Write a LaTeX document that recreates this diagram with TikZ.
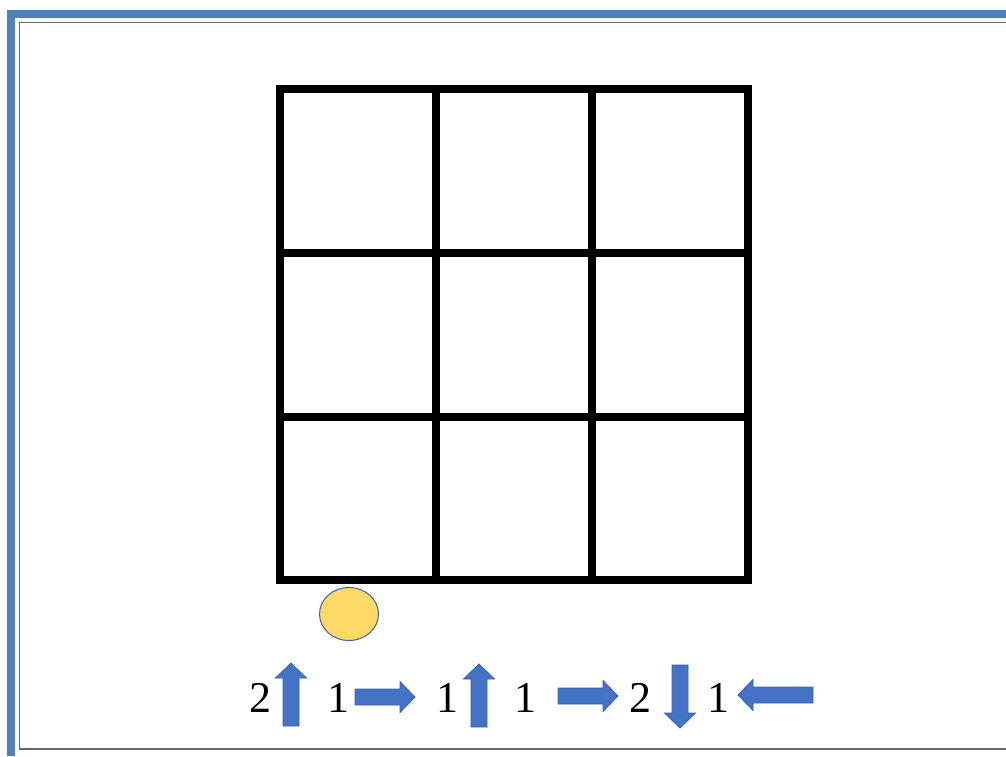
\documentclass[tikz,border=0pt]{standalone}
\usepackage{fontspec}
\setmainfont{Liberation Serif}
\usepackage{tikz}
\usetikzlibrary{shapes.geometric}

\definecolor{frameblue}{HTML}{4F81BD}
\definecolor{arrowblue}{HTML}{4472C4}
\definecolor{arrowedge}{HTML}{3A62A8}
\definecolor{ballyellow}{HTML}{FFD966}

\tikzset{
  cellline/.style={line width=8pt, line join=miter},
  blkfill/.style={fill=arrowblue, draw=arrowedge, line width=0.8pt},
  count/.style={anchor=base, inner sep=0pt, font=\fontsize{44}{50}\selectfont},
  pics/blk/.style={code={
    \draw[blkfill] (0,-8) -- (#1-15,-8) -- (#1-15,-15.5) -- (#1,0)
      -- (#1-15,15.5) -- (#1-15,8) -- (0,8) -- cycle;}}
}

\begin{document}
\begin{tikzpicture}[x=1pt, y=-1pt]
  \useasboundingbox (0,0) rectangle (1006,756);
  % frame
  \fill[frameblue] (7,10) rectangle (1006,18);
  \fill[frameblue] (7,10) rectangle (15,756);
  \draw[black!60, line width=1.5pt] (1010,22.5) -- (19.5,22.5) -- (19.5,749) -- (1010,749);
  % board
  \draw[cellline] (280,89) rectangle (748,580);
  \draw[cellline] (436,89) -- (436,580) (592,89) -- (592,580);
  \draw[cellline] (280,253) -- (748,253) (280,417) -- (748,417);
  % ball
  \node[ellipse, minimum width=59pt, minimum height=53pt, inner sep=0pt,
        fill=ballyellow, draw=arrowedge, line width=1pt] (ball) at (349,614) {};
  % moves
  \node[count] (n1) at (260,712) {2};
  \pic[rotate=90] at (291,726) {blk=63};
  \node[count] (n2) at (338,712) {1};
  \pic at (355,697) {blk=60};
  \node[count] (n3) at (447,712) {1};
  \pic[rotate=90] at (479,727) {blk=63};
  \node[count] (n4) at (525,712) {1};
  \pic at (558,696) {blk=60};
  \node[count] (n5) at (640,712) {2};
  \pic[rotate=-90] at (680,665) {blk=63};
  \node[count] (n6) at (718,712) {1};
  \pic[rotate=180] at (813,695) {blk=75};
\end{tikzpicture}
\end{document}
